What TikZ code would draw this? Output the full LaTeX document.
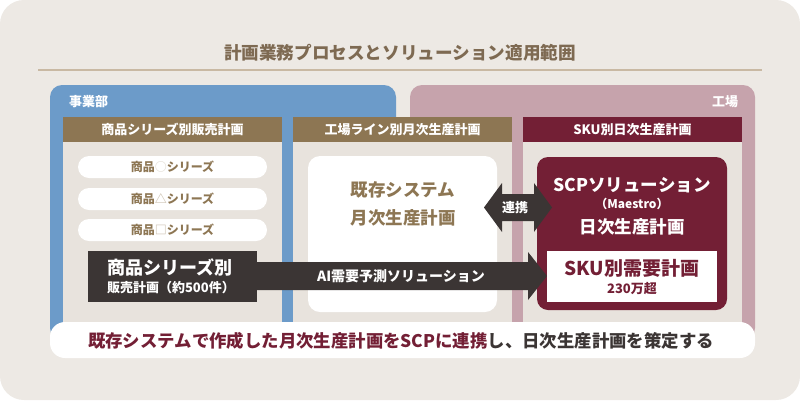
\documentclass[tikz,border=0pt]{standalone}
\usepackage{fontspec}
\setmainfont{Noto Sans CJK JP}
\definecolor{bg}{HTML}{EDE9E4}
\definecolor{titlec}{HTML}{7E6A52}
\definecolor{linec}{HTML}{C9B9A3}
\definecolor{bluep}{HTML}{6C9BC9}
\definecolor{pinkp}{HTML}{C6A3AC}
\definecolor{brownh}{HTML}{8D7653}
\definecolor{maroon}{HTML}{731F35}
\definecolor{body}{HTML}{E8E3DD}
\definecolor{darkb}{HTML}{3B3534}
\definecolor{grayt}{HTML}{3B3534}
\tikzset{
  box/.style={anchor=north west, inner sep=0pt, outer sep=0pt, draw=none},
  hdr/.style={box, text=white, font=\bfseries\fontsize{13}{15}\selectfont},
  pill/.style={box, fill=white, rounded corners=11pt, text=brownh, font=\bfseries\fontsize{12}{14}\selectfont},
  lbl/.style={inner sep=0pt, outer sep=0pt},
  big/.style={font=\bfseries\fontsize{17.5}{20}\selectfont},
  small/.style={font=\bfseries\fontsize{13}{15}\selectfont},
}
\begin{document}
\begin{tikzpicture}[x=1pt,y=-1pt]
\useasboundingbox (0,0) rectangle (800,400);
\fill[white] (0,0) rectangle (800,400);
\fill[bg, rounded corners=24pt] (0,0) rectangle (800,400);
% title
\node[lbl, text=titlec, font=\bfseries\fontsize{17.6}{20}\selectfont] (title) at (400,53) {計画業務プロセスとソリューション適用範囲};
\coordinate (tl) at (38,70); \coordinate (tr) at (762,70);
\draw[linec, line width=1.2pt] (tl) -- (tr);
% panels
\fill[bluep, rounded corners=12pt] (50,85) rectangle (396,340);
\fill[pinkp, rounded corners=12pt] (410,85) rectangle (755,340);
\node[lbl, anchor=west, text=white, small] (jigyo) at (69,102) {事業部};
\node[lbl, anchor=east, text=white, small] (kojo) at (738,102) {工場};
% columns bodies
\fill[body] (63,142) rectangle (282,330);
\fill[body] (293,142) rectangle (512,330);
\fill[body] (523,142) rectangle (742,330);
% headers
\node[hdr, fill=brownh, minimum width=219pt, minimum height=25pt] (h1) at (63,117) {商品シリーズ別販売計画};
\node[hdr, fill=brownh, minimum width=219pt, minimum height=25pt] (h2) at (293,117) {工場ライン別月次生産計画};
\node[hdr, fill=maroon, minimum width=219pt, minimum height=25pt] (h3) at (523,117) {SKU別日次生産計画};
% pills
\node[pill, minimum width=189pt, minimum height=22pt] (p1) at (78,156) {商品\textcolor{brownh!25}{○}シリーズ};
\node[pill, minimum width=189pt, minimum height=22pt] (p2) at (78,188) {商品\textcolor{brownh!45}{△}シリーズ};
\node[pill, minimum width=189pt, minimum height=22pt] (p3) at (78,219) {商品\textcolor{brownh!45}{□}シリーズ};
% existing system box
\node[box, fill=white, rounded corners=12pt, minimum width=189pt, minimum height=156pt] (exist) at (308,156) {};
\node[lbl, text=brownh, big] (existt1) at (403,190) {既存システム};
\node[lbl, text=brownh, big] (existt2) at (403,218) {月次生産計画};
% SCP box
\node[box, fill=maroon, rounded corners=11pt, minimum width=190pt, minimum height=153pt] (scp) at (537,157) {};
\node[lbl, text=white, big] (scpt1) at (632,185) {SCPソリューション};
\node[lbl, text=white, font=\bfseries\fontsize{12}{14}\selectfont] (scpt2) at (632,204) {（Maestro）};
\node[lbl, text=white, big] (scpt3) at (632,227) {日次生産計画};
% AI arrow
\fill[darkb] (257,262) -- (528,262) -- (528,252) -- (547,276) -- (528,300) -- (528,290) -- (257,290) -- cycle;
\node[lbl, text=white, font=\bfseries\fontsize{14}{16}\selectfont] (ait) at (401,276) {AI需要予測ソリューション};
% sku box
\node[box, fill=white, minimum width=170pt, minimum height=51pt] (sku) at (547,251) {};
\node[lbl, text=maroon, font=\bfseries\fontsize{19}{21}\selectfont] (skut1) at (632,268) {SKU別需要計画};
\node[lbl, text=maroon, small] (skut2) at (632,289) {230万超};
% dark sales box
\node[box, fill=darkb, minimum width=169pt, minimum height=51pt] (sales) at (88,251) {};
\node[lbl, anchor=west, text=white, font=\bfseries\fontsize{18}{20}\selectfont] (salest1) at (107,267) {商品シリーズ別};
\node[lbl, anchor=west, text=white, small] (salest2) at (107,288) {販売計画（約500件）};
% double arrow
\fill[darkb] (484,207.5) -- (502,183) -- (502,194) -- (534,194) -- (534,183) -- (552,207.5) -- (534,232) -- (534,221) -- (502,221) -- (502,232) -- cycle;
\node[lbl, text=white, small] (renkei) at (515,207.5) {連携};
% bottom bar
\node[box, fill=white, rounded corners=15pt, minimum width=705pt, minimum height=36pt] (bar) at (50,322) {};
\node[lbl, font=\bfseries\fontsize{17.4}{20}\selectfont] (bart) at (401,341) {\textcolor{maroon}{既存システムで作成した月次生産計画をSCPに連携}\textcolor{grayt}{し、日次生産計画を策定する}};
\end{tikzpicture}
\end{document}
